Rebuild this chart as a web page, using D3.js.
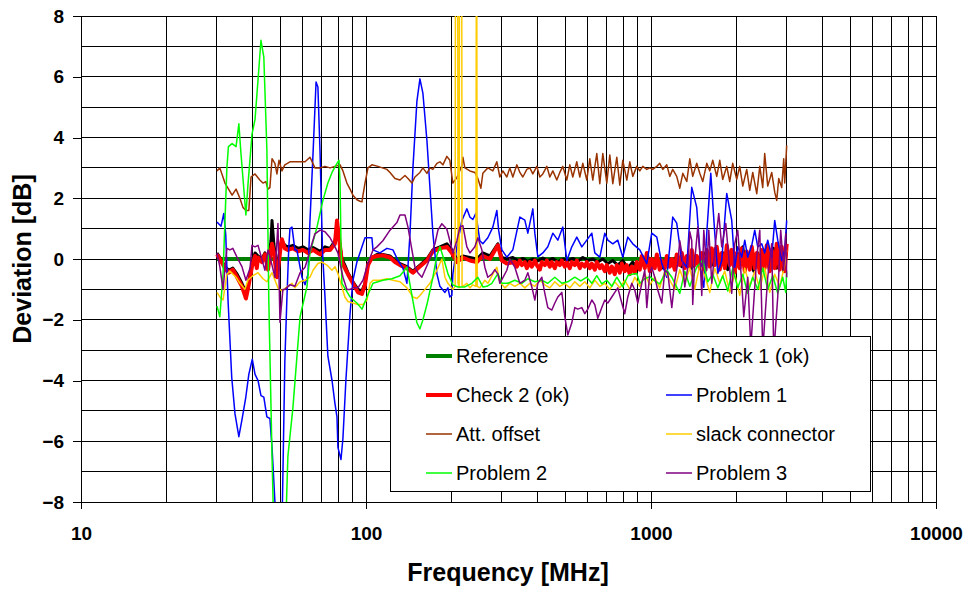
<!DOCTYPE html>
<html>
<head>
<meta charset="utf-8">
<script src="https://cdn.jsdelivr.net/npm/d3@7"></script>
<style>
  body { margin: 0; background: #fff; }
  svg { display: block; font-family: Arial, "Liberation Sans", sans-serif; }
</style>
</head>
<body>
<svg id="chart" width="968" height="589"></svg>
<script>
// ---- data: frequency in MHz, deviation in dB ----
const xTickValues = [10, 100, 1000, 10000];
const yTickValues = [-8, -6, -4, -2, 0, 2, 4, 6, 8];
const seriesNames = ["Reference", "Check 1 (ok)", "Check 2 (ok)", "Problem 1",
                     "Att. offset", "slack connector", "Problem 2", "Problem 3"];

const reference = [[30, 0], [3000, 0]];

const check1 = [[30,0.2],[30.7,0.05],[32,-0.25],[33,-0.37],[34.1,-0.3],[35.3,-0.5],[36.7,-0.8],[37.9,-1.1],[38.5,-0.9],[39.8,-0.15],[40.8,0.2],[41.8,0.1],[43.1,0.0],[44.2,0.2],[45.3,-0.25],[46.4,0.6],[46.8,1.27],[47.5,0.5],[48.7,-0.3],[49.5,0.1],[50.7,0.6],[51.9,0.45],[53.2,0.4],[55.4,0.45],[57.7,0.35],[60.1,0.4],[62.6,0.3],[65.2,0.38],[69,0.25],[71.8,0.4],[74.8,0.35],[77.8,0.6],[79.1,1.0],[80.4,0.7],[82.3,0.0],[84.3,-0.2],[86.4,-0.45],[90,-0.75],[93.7,-1.0],[96.8,-1.05],[99.2,-0.8],[101.6,-0.2],[104.9,0.05],[109.2,0.15],[114.6,0.15],[121.4,0.1],[126.4,-0.05],[131.6,-0.15],[139.2,-0.25],[146.1,-0.4],[154.6,-0.2],[163.6,0.0],[171.7,0.3],[181.7,0.4],[192.2,0.5],[200.1,0.3],[208.4,0.0],[218.7,0.1],[231.5,0.05],[244.9,0.0],[257,0.2],[272,0.1],[290.2,0.5],[299.7,0.05],[312,0.0],[327.5,0.05],[341,-0.05],[355.1,0.02],[369.7,-0.08],[384.9,0],[400.8,-0.06],[417.3,0.03],[434.5,-0.05],[452.4,0.02],[471,-0.1],[490.4,0],[510.6,-0.05],[531.6,0.02],[553.5,-0.08],[576.4,0.05],[600.2,-0.05],[624.9,0],[650.7,-0.1],[677.5,0],[705.4,-0.15],[734.5,-0.05],[764.7,-0.2],[796.3,-0.05],[829.1,-0.3],[863.2,-0.1],[898.8,-0.35],[935.8,-0.1],[966.6,0.1],[1006,-0.2],[1048,0.05],[1091,-0.3],[1136,0.0],[1183,-0.2],[1231,0.1],[1282,-0.25],[1335,0.05],[1390,-0.3],[1447,0.1],[1507,-0.15],[1569,0.3],[1634,-0.2],[1688,0.35],[1743,-0.3],[1800,0.2],[1859,-0.35],[1920,0.15],[1983,-0.3],[2048,0.2],[2099,0.4],[2150,-0.3],[2221,0.1],[2293,-0.4],[2369,0.2],[2446,-0.2],[2526,0.3],[2610,-0.4],[2696,0.35],[2761,-0.3],[2852,0.2],[2922,-0.4],[2993,0.3]];

const check2 = [[30,0.15],[30.7,0.0],[32,-0.3],[33,-0.45],[34.1,-0.35],[35.3,-0.6],[36.7,-0.9],[37.9,-1.3],[38.5,-1.0],[39.8,-0.25],[40.8,0.1],[41.4,-0.3],[41.8,0.05],[43.1,-0.1],[44.2,0.15],[45.3,-0.35],[46.4,0.3],[46.8,0.5],[47.5,0.2],[48.7,-0.6],[49.5,-0.1],[50.3,0.5],[50.7,0.65],[51.9,0.35],[53.2,0.3],[55.4,0.35],[57.7,0.25],[60.1,0.3],[62.6,0.2],[65.2,0.3],[69,0.15],[71.8,0.3],[74.8,0.3],[77.8,0.5],[79.1,1.27],[80.4,0.7],[82.3,-0.1],[84.3,-0.3],[86.4,-0.5],[90,-0.8],[93.7,-1.1],[96.8,-1.15],[99.2,-0.85],[101.6,-0.2],[104.9,0.05],[109.2,0.1],[114.6,0.12],[121.4,0.05],[126.4,-0.1],[131.6,-0.2],[139.2,-0.3],[146.1,-0.45],[154.6,-0.25],[163.6,-0.05],[171.7,0.25],[181.7,0.35],[192.2,0.4],[200.1,0.2],[208.4,-0.1],[218.7,0.05],[231.5,-0.05],[244.9,-0.1],[257,0.1],[272,0.0],[290.2,0.45],[299.7,-0.05],[312,-0.15],[332.8,-0.1],[338.3,-0.25],[346.6,-0.05],[352.2,-0.2],[360.8,-0.1],[366.7,-0.3],[375.7,-0.1],[381.8,-0.25],[391.2,-0.05],[397.6,-0.2],[407.3,-0.35],[413.9,-0.1],[424.1,-0.2],[431,-0.05],[441.6,-0.25],[448.8,-0.1],[459.8,-0.3],[467.2,-0.1],[478.7,-0.2],[486.5,-0.05],[498.4,-0.25],[506.5,-0.1],[518.9,-0.3],[527.4,-0.1],[540.3,-0.2],[549.1,-0.05],[562.6,-0.3],[571.8,-0.15],[585.8,-0.25],[595.3,-0.1],[609.9,-0.3],[619.9,-0.15],[635.1,-0.35],[645.4,-0.1],[661.3,-0.3],[672,-0.2],[688.5,-0.4],[699.7,-0.2],[716.9,-0.45],[728.6,-0.25],[746.4,-0.5],[758.6,-0.2],[777.2,-0.45],[789.8,-0.15],[809.2,-0.4],[822.4,-0.2],[842.6,-0.5],[856.3,-0.25],[877.3,-0.45],[891.6,-0.1],[913.4,-0.35],[928.3,0.1],[951,-0.3],[966.6,0.2],[990.3,-0.4],[1006,0.0],[1031,-0.3],[1048,0.15],[1073,-0.35],[1091,-0.05],[1118,-0.3],[1136,0.1],[1164,-0.25],[1183,0.0],[1212,-0.35],[1231,0.15],[1262,-0.2],[1282,0.2],[1314,-0.3],[1335,0.1],[1368,-0.25],[1390,0.3],[1424,-0.2],[1447,0.1],[1483,-0.3],[1507,0.2],[1544,-0.4],[1569,0.3],[1608,-0.25],[1634,0.35],[1674,-0.2],[1701,0.4],[1743,-0.35],[1771,0.2],[1815,-0.3],[1844,0.45],[1889,-0.2],[1920,0.3],[1967,-0.45],[1999,0.2],[2048,-0.3],[2082,0.35],[2133,-0.4],[2167,0.25],[2221,-0.35],[2257,0.4],[2312,-0.3],[2350,0.2],[2408,-0.45],[2446,0.3],[2506,-0.3],[2547,0.45],[2610,-0.4],[2652,0.3],[2717,-0.3],[2761,0.5],[2829,-0.35],[2875,0.4],[2946,-0.4],[2993,0.5]];

const problem1 = [[30,1.22],[31,1.08],[31.7,1.5],[32.2,0.8],[32.8,-1.35],[33.8,-3.9],[34.7,-5.1],[35.8,-5.85],[36.7,-5.3],[37.8,-4.6],[38.8,-3.8],[39.9,-3.3],[40.8,-3.8],[41.8,-4.0],[42.8,-4.5],[43.8,-4.55],[44.9,-5.2],[46,-5.25],[46.8,-6.2],[48.3,-8.6],[49.5,-9.2],[50.7,-9.0],[51.9,-3.4],[52.8,-1.25],[53.6,0.4],[54.1,1.0],[55,1.05],[56.3,0.3],[57.2,0.3],[59.6,-0.6],[61.1,-0.85],[62.6,-0.5],[63.6,1.27],[65.2,3.5],[66.8,5.83],[67.8,5.66],[69,3.5],[70.4,0.2],[71.8,-1.25],[73.5,-3.2],[76,-4.0],[77.8,-4.75],[79.1,-5.2],[79.7,-6.2],[81.7,-6.6],[83,-5.9],[85,-4.0],[87.9,-1.8],[90,-0.7],[92.9,-0.1],[96.8,0.4],[99.2,0.7],[100.8,0.7],[104.9,0.7],[105.8,0.3],[111.9,0.2],[118.4,0.35],[124.3,0.3],[129.5,-0.05],[134.8,-0.3],[139.2,-0.8],[142.7,0.85],[146.1,3.0],[150.9,5.2],[154.6,5.93],[158.4,5.45],[163.6,3.9],[167.6,2.36],[171.7,0.83],[177.3,-0.48],[181.7,-0.9],[189.2,-1.1],[193.8,-0.95],[196.9,-1.25],[200.1,-1.2],[201.7,-0.5],[208.4,0.4],[217,1.27],[225.9,1.65],[231.5,1.38],[237.1,1.3],[242.9,1.5],[250.9,0.6],[257,0.5],[267.6,0.7],[278.7,1.05],[287.8,1.6],[292,0.95],[299.7,0.3],[312,0.06],[327.5,0.3],[346.6,1.38],[360.8,1.28],[369.7,0.85],[384.9,1.65],[391.2,0.85],[400.8,0.07],[417.3,0.2],[434.5,0.4],[452.4,0.85],[471,0.62],[490.4,1.05],[506.5,-0.05],[527.4,0.4],[549.1,0.72],[571.8,0.4],[595.3,0.62],[619.9,0.85],[635.1,0.2],[661.3,0.06],[688.5,0.85],[705.4,0.62],[734.5,0.5],[764.7,0.62],[796.3,0.06],[829.1,0.72],[863.2,0.5],[913.4,0.3],[966.6,-0.15],[1006,0.85],[1048,0.72],[1091,-0.15],[1136,-0.6],[1192,1.38],[1231,1.18],[1282,-0.05],[1335,-0.27],[1390,2.36],[1447,1.7],[1507,-0.6],[1532,-0.93],[1569,0.85],[1621,2.82],[1674,0.85],[1715,-0.48],[1771,-0.05],[1844,2.16],[1920,1.27],[1967,-0.27],[2015,0.4],[2082,0.06],[2133,0.62],[2185,0.06],[2257,0.45],[2312,0.95],[2369,0.4],[2446,0.5],[2506,0.2],[2568,0.62],[2652,0.06],[2717,1.27],[2784,0.62],[2875,-0.05],[2946,0.3],[2993,1.27]];

const attOffset = [[30,2.9],[30.7,3.0],[32,2.5],[33.9,2.1],[35,2.3],[36.1,2.0],[37,1.7],[37.9,1.6],[38.8,1.6],[39.5,2.7],[40.8,2.8],[42.4,2.6],[43.5,2.5],[44.5,2.55],[45.3,2.3],[46,2.35],[46.8,3.3],[47.9,3.15],[48.7,2.8],[49.5,3.25],[50.7,2.9],[51.9,3.1],[54.1,3.2],[56.3,3.2],[58.7,3.2],[61.1,3.2],[63.6,3.35],[66.2,3.0],[69,3.0],[71.8,3.05],[74.8,3.0],[77.8,3.05],[81.1,3.1],[83,2.9],[85.7,2.5],[87.9,2.3],[90,2.1],[92.9,1.95],[95.3,1.9],[96.8,1.88],[97.6,2.1],[99.2,2.5],[101.6,3.0],[104.9,3.1],[110.1,3.05],[118.4,2.95],[121.4,2.85],[126.4,2.65],[131.6,2.6],[137,2.75],[140.4,2.65],[144.9,2.5],[148.5,2.7],[154.6,2.85],[158.4,3.0],[163.6,2.82],[167.6,3.0],[171.7,2.95],[177.3,3.15],[181.7,3.2],[186.1,3.1],[192.2,3.38],[196.9,3.25],[201.7,2.5],[208.4,2.68],[217,3.08],[218.7,3.35],[222.3,3.0],[231.5,2.9],[241,2.85],[246.9,2.65],[253,2.33],[257,2.82],[267.6,3.0],[278.7,2.9],[287.8,3.2],[294.9,2.7],[302.1,2.9],[312,2.7],[319.6,3.0],[327.5,2.7],[338.3,3.1],[346.6,2.85],[355.1,2.7],[366.7,2.95],[375.7,3.0],[384.9,2.8],[397.6,3.05],[407.3,2.7],[417.3,2.8],[431,3.05],[441.6,2.7],[452.4,2.9],[467.2,2.6],[478.7,2.85],[490.4,3.05],[506.5,2.6],[518.9,3.1],[531.6,2.7],[549.1,3.2],[562.6,2.7],[576.4,3.15],[595.3,2.6],[609.9,3.3],[624.9,2.6],[645.4,3.47],[661.3,2.48],[677.5,3.47],[699.7,2.5],[716.9,3.42],[734.5,2.48],[758.6,3.35],[777.2,2.43],[796.3,3.25],[822.4,2.6],[842.6,3.2],[863.2,2.72],[891.6,3.05],[913.4,2.9],[935.8,3.05],[966.6,2.95],[990.3,3.0],[1014,2.95],[1048,3.05],[1073,3.15],[1100,2.95],[1136,3.1],[1164,2.72],[1192,2.95],[1231,2.72],[1262,2.33],[1293,2.82],[1335,2.55],[1368,3.3],[1401,2.72],[1447,3.15],[1483,2.82],[1519,2.55],[1569,3.15],[1608,2.9],[1647,3.25],[1701,2.72],[1743,3.25],[1785,2.62],[1844,3.05],[1889,2.55],[1935,3.15],[1999,2.62],[2048,3.05],[2099,2.4],[2167,2.95],[2221,2.26],[2275,2.85],[2350,2.15],[2408,3.05],[2466,2.35],[2506,3.47],[2568,2.4],[2652,2.85],[2717,2.2],[2761,1.93],[2807,2.65],[2875,2.35],[2922,3.3],[2946,2.5],[2993,3.74]];

const slackConnector = [[30,-1.1],[30.7,-1.25],[31.5,-1.35],[32.5,-0.5],[33.3,-0.4],[35,-0.6],[36.1,-0.8],[37.6,-1.0],[38.5,-0.7],[40.1,-0.55],[41.8,-0.45],[43.5,-0.65],[44.9,-0.75],[46.8,-0.45],[47.5,-0.6],[49.1,-0.95],[50.7,-1.05],[52.8,-0.92],[55,-0.8],[56.3,-0.95],[58.7,-0.75],[61.1,-0.7],[63.6,-0.6],[65.2,-0.37],[67.8,-0.15],[70.1,-0.1],[72.9,-0.2],[76,-0.37],[77.8,-0.25],[79.7,-0.48],[82.3,-0.92],[84.3,-1.25],[86.4,-1.4],[90,-1.45],[93.7,-1.5],[97.6,-1.5],[100.8,-1.35],[103.3,-0.8],[105.8,-0.7],[111.9,-0.7],[118.4,-0.65],[124.3,-0.7],[131.6,-0.75],[139.2,-0.95],[146.1,-1.25],[150.9,-1.3],[154.6,-1.2],[161,-1.0],[167.6,-0.8],[177.3,-0.37],[184.6,0.0],[189.2,-0.6],[193.8,-0.8],[201.7,-1.0],[205.5,-0.9],[206.2,14],[209.6,14],[210.3,-0.8],[212.3,-0.95],[213,14],[216.5,14],[217.3,-0.9],[222.3,-0.85],[225.9,-0.8],[231.5,-0.95],[237.1,-0.85],[242.9,-0.9],[244.3,14],[245.6,-0.9],[250.9,-0.95],[255,-0.85],[261.2,-0.7],[267.6,-0.8],[278.7,-0.5],[287.8,-0.27],[294.9,-0.75],[307,-0.95],[319.6,-0.8],[332.8,-0.9],[346.6,-0.8],[360.8,-0.95],[375.7,-0.8],[391.2,-0.9],[407.3,-0.7],[424.1,-0.85],[441.6,-0.95],[459.8,-0.75],[478.7,-0.9],[498.4,-0.8],[518.9,-0.95],[540.3,-0.75],[562.6,-0.9],[585.8,-0.75],[609.9,-0.95],[635.1,-0.7],[661.3,-0.9],[688.5,-0.8],[716.9,-1.0],[746.4,-0.75],[777.2,-0.95],[809.2,-0.7],[842.6,-1.0],[877.3,-0.6],[913.4,-0.9],[951,-0.5],[990.3,-0.85],[1031,-0.6],[1073,-0.95],[1118,-0.4],[1164,-0.7],[1212,-1.0],[1262,-0.35],[1314,-0.8],[1368,-0.3],[1424,-1.0],[1483,-0.2],[1544,-0.55],[1608,-1.1],[1674,-0.3],[1743,-0.8],[1815,-0.4],[1889,-1.1],[1967,-0.5],[2048,-1.2],[2133,-0.3],[2221,-0.9],[2312,-0.4],[2408,-1.0],[2506,-0.3],[2610,-1.1],[2717,-0.5],[2829,-0.9],[2946,-0.2],[2993,0.3]];

const problem2 = [[30,-1.55],[30.7,-1.9],[31.5,-0.5],[32.5,3.0],[32.9,3.7],[33.9,3.8],[35,3.7],[35.8,4.45],[36.4,3.5],[37.9,1.45],[38.5,2.4],[39.8,4.1],[40.8,4.6],[41.8,5.9],[42.8,7.2],[43.8,6.65],[44.9,3.6],[45.6,-1.35],[46.8,-6.5],[47.3,-8.3],[49.9,-9.5],[52.4,-8.5],[53.2,-6.5],[55.4,-4.9],[58.7,-1.9],[62.1,-0.9],[63.6,0.2],[67.3,1.05],[70.6,1.93],[73.5,2.5],[76,2.85],[79.1,3.15],[80.4,3.25],[81.1,2.5],[81.7,0.5],[82.3,-0.8],[87.9,-1.25],[92.9,-1.45],[96.8,-1.65],[100.8,-1.25],[105.8,-0.8],[114.6,-0.7],[123.3,-0.65],[131.6,-0.55],[139.2,-0.27],[144.9,-1.2],[150.9,-2.1],[154.6,-2.3],[158.4,-2.0],[163.6,-1.5],[171.7,-0.6],[177.3,0.12],[181.7,0.4],[186.1,0.1],[193.8,-0.48],[201.7,-0.85],[210.1,-0.92],[222.3,-0.92],[235.2,-0.8],[246.9,-0.6],[257,-0.92],[265.5,-0.9],[276.4,-0.8],[290.2,-0.48],[299.7,-0.8],[314.5,-0.8],[332.8,-0.7],[352.2,-0.8],[369.7,-0.65],[391.2,-0.75],[413.9,-0.7],[434.5,-0.8],[459.8,-0.6],[486.5,-0.8],[510.6,-0.75],[540.3,-0.6],[567,-0.72],[595.3,-0.6],[619.9,-0.8],[645.4,-0.55],[672,-0.82],[699.7,-0.7],[728.6,-0.9],[758.6,-0.6],[796.3,-0.92],[829.1,-0.55],[856.3,-0.5],[891.6,-0.48],[913.4,-0.8],[951,-0.65],[990.3,-0.58],[1031,-0.72],[1073,-0.82],[1136,-0.37],[1183,-0.6],[1262,-1.13],[1314,-0.4],[1368,-0.9],[1447,-0.26],[1519,-0.04],[1582,-0.75],[1647,-0.5],[1715,-0.95],[1785,-0.55],[1859,-1.05],[1935,-0.3],[2015,-0.95],[2099,-0.5],[2185,-1.13],[2275,-0.6],[2369,-1.0],[2466,-0.3],[2568,-1.0],[2674,-0.55],[2784,-1.13],[2898,-0.6],[2970,-1.1],[2993,-0.4]];

const problem3 = [[30,0.2],[30.7,-0.25],[31.5,-1.0],[32.5,0.35],[33.3,0.3],[34.1,0.35],[35.3,0.05],[36.7,-0.25],[37.9,-0.7],[39.2,-0.3],[39.8,0.45],[40.8,0.4],[41.8,0.45],[43.1,0.0],[44.2,-0.37],[45.3,0.3],[46.8,-0.2],[47.9,-0.6],[49.1,1.17],[49.9,-2.08],[51.1,-1.0],[51.9,-1.0],[54.1,-0.85],[56.3,-0.9],[58.7,-0.45],[61.1,-0.27],[62.6,0.05],[64.6,0.5],[66.2,0.83],[69,0.95],[71.8,0.9],[74.8,0.7],[77.8,0.4],[79.7,0.2],[83,-0.6],[85.7,-1.0],[87.9,-1.0],[90,-0.95],[93.7,-0.95],[97.6,-0.7],[101.6,-0.15],[105.8,0.3],[109.2,0.4],[114.6,0.6],[121.4,0.95],[128.4,1.2],[131.6,1.45],[137,1.45],[140.4,1.05],[144.9,0.3],[148.5,-0.27],[152.1,-0.45],[157.1,-0.6],[161,-0.37],[164.9,-0.15],[170.3,0.2],[174.5,0.5],[178.8,0.95],[184.6,1.16],[192.2,0.98],[196.9,0.6],[201.7,0.2],[208.4,0.6],[213.5,1.05],[218.7,1.1],[225.9,0.4],[231.5,0.2],[241,0.4],[246.9,0.7],[255,0.3],[261.2,-0.27],[267.6,-0.6],[276.4,-0.5],[283.2,-0.35],[290.2,-0.5],[294.9,-0.8],[312,-0.37],[319.6,0.0],[332.8,-0.27],[346.6,-0.8],[360.8,-0.7],[369.7,-0.45],[381.8,-0.92],[391.2,-1.35],[400.8,-0.8],[413.9,-0.6],[424.1,-1.13],[434.5,-1.6],[448.8,-1.68],[459.8,-1.45],[471,-1.25],[486.5,-1.1],[498.4,-1.9],[510.6,-2.5],[527.4,-2.1],[540.3,-1.6],[553.5,-1.65],[571.8,-1.6],[585.8,-1.8],[600.2,-1.65],[619.9,-1.35],[635.1,-1.5],[650.7,-1.95],[672,-1.6],[688.5,-1.35],[705.4,-1.45],[728.6,-1.25],[746.4,-1.1],[764.7,-0.95],[789.8,-1.45],[809.2,-1.8],[829.1,-1.25],[856.3,-0.8],[877.3,-1.02],[898.8,-1.45],[928.3,-0.8],[951,-0.37],[966.6,-1.6],[990.3,-0.45],[1006,-0.27],[1031,-0.6],[1056,-1.02],[1091,-1.45],[1118,-0.37],[1145,-0.45],[1183,-1.6],[1212,-0.7],[1241,-0.15],[1262,0.6],[1282,0.2],[1314,-0.92],[1346,-0.27],[1368,0.9],[1390,0.6],[1401,-1.5],[1424,-0.05],[1459,1.05],[1483,0.2],[1507,-1.2],[1532,0.95],[1569,-0.37],[1595,0.95],[1634,-0.8],[1688,0.62],[1729,1.5],[1771,0.4],[1830,1.17],[1874,0.06],[1920,-1.13],[1967,0.5],[2015,0.95],[2082,-0.8],[2116,-1.9],[2185,-0.6],[2239,-2.9],[2350,0.06],[2408,0.95],[2466,-3.0],[2568,-0.6],[2652,0.5],[2696,-3.1],[2784,-1.25],[2852,0.95],[2922,-0.37],[2970,0.83],[2993,-0.6]];

// ---- drawing ----
const seriesData = [reference, check1, check2, problem1, attOffset, slackConnector, problem2, problem3];
const seriesColors = ["#008000", "#000000", "#ff0000", "#0000ff", "#993300", "#ffcc00", "#00ff00", "#800080"];
const seriesWidths = [4, 3, 4, 1.5, 1.5, 1.5, 1.5, 1.5];

const plot = { left: 81, right: 936, top: 16, bottom: 502 };
const svg = d3.select("#chart");

const x = d3.scaleLog().domain([10, 10000]).range([plot.left, plot.right]);
const y = d3.scaleLinear().domain([-8, 8]).range([plot.bottom, plot.top]);

// grid: every 1-2-...-9 step per decade, every dB
const xGrid = [];
[10, 100, 1000].forEach(d => { for (let k = 1; k <= 9; k++) xGrid.push(k * d); });
xGrid.push(10000);
const yGrid = d3.range(-8, 9, 1);

const grid = svg.append("g").attr("stroke", "#000").attr("stroke-width", 1)
  .attr("shape-rendering", "crispEdges");
grid.selectAll("line.v").data(xGrid).join("line").attr("class", "v")
  .attr("x1", d => x(d)).attr("x2", d => x(d))
  .attr("y1", plot.top).attr("y2", plot.bottom);
grid.selectAll("line.h").data(yGrid).join("line").attr("class", "h")
  .attr("x1", plot.left).attr("x2", plot.right)
  .attr("y1", d => y(d)).attr("y2", d => y(d));

// axes
const yAxis = d3.axisLeft(y).tickValues(yTickValues).tickSize(8).tickPadding(9).tickFormat(d3.format("d"));
const xAxis = d3.axisBottom(x).tickValues(xTickValues).tickSize(7).tickPadding(18).tickFormat(d3.format("d"));
const gy = svg.append("g").attr("transform", `translate(${plot.left},0)`).call(yAxis);
const gx = svg.append("g").attr("transform", `translate(0,${plot.bottom})`).call(xAxis);
[gx, gy].forEach(g => {
  g.attr("shape-rendering", "crispEdges");
  g.select(".domain").attr("stroke", "#000");
  g.selectAll(".tick line").attr("stroke", "#000");
  g.selectAll(".tick text").attr("fill", "#000")
    .style("font-family", "Arial, 'Liberation Sans', sans-serif")
    .style("font-size", "19px").style("font-weight", "bold");
});

// series, clipped to the plot area
svg.append("clipPath").attr("id", "plotClip").append("rect")
  .attr("x", plot.left).attr("y", plot.top)
  .attr("width", plot.right - plot.left).attr("height", plot.bottom - plot.top);

const line = d3.line().x(d => x(d[0])).y(d => y(d[1]));
const lines = svg.append("g").attr("clip-path", "url(#plotClip)");
seriesData.forEach((data, i) => {
  lines.append("path").datum(data)
    .attr("d", line)
    .attr("fill", "none")
    .attr("stroke", seriesColors[i])
    .attr("stroke-width", seriesWidths[i])
    .attr("stroke-linejoin", "round");
});

// axis titles
svg.append("text").attr("x", 508).attr("y", 572)
  .attr("text-anchor", "middle").attr("dominant-baseline", "central")
  .style("font-size", "25px").style("font-weight", "bold").text("Frequency [MHz]");
svg.append("text").attr("transform", "translate(22,259) rotate(-90)")
  .attr("text-anchor", "middle").attr("dominant-baseline", "central")
  .style("font-size", "25px").style("font-weight", "bold").text("Deviation [dB]");

// legend
const legend = svg.append("g");
legend.append("rect").attr("x", 390.5).attr("y", 336.5).attr("width", 480).attr("height", 155)
  .attr("fill", "#fff").attr("stroke", "#000").attr("stroke-width", 1);
const colX = [426, 666];
const rowY = [356, 395, 434, 473];
seriesNames.forEach((name, i) => {
  const cx = colX[i % 2], cy = rowY[Math.floor(i / 2)];
  legend.append("line").attr("x1", cx).attr("x2", cx + 26).attr("y1", cy).attr("y2", cy)
    .attr("stroke", seriesColors[i]).attr("stroke-width", seriesWidths[i]);
  legend.append("text").attr("x", cx + 30).attr("y", cy)
    .attr("dominant-baseline", "central").style("font-size", "20px").text(name);
});
</script>
</body>
</html>
